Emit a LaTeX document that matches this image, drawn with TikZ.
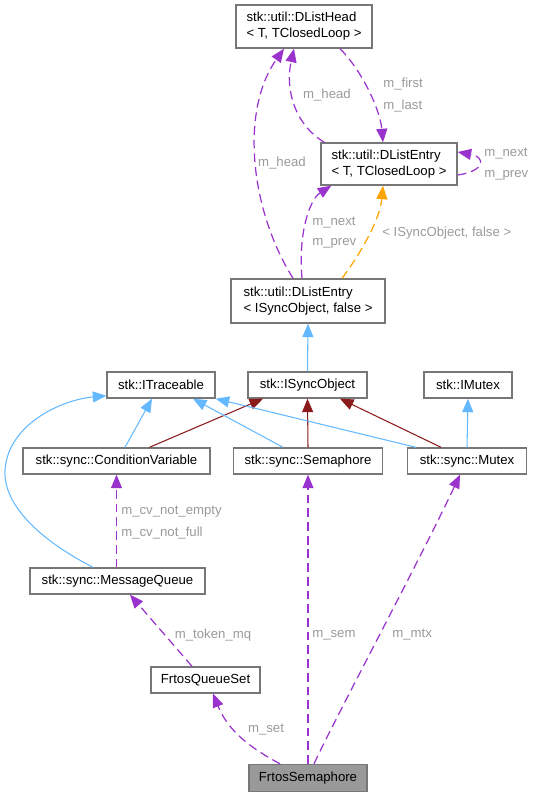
\documentclass[tikz,border=0pt]{standalone}
\usepackage{fontspec}
\setmainfont{Liberation Sans}
\usetikzlibrary{arrows.meta}
\definecolor{relcol}{HTML}{9A32CD}
\definecolor{inhcol}{HTML}{63B8FF}
\definecolor{pubcol}{HTML}{8B1A1A}
\definecolor{tplcol}{HTML}{FFA500}
\definecolor{lblcol}{HTML}{9A9A9A}
\definecolor{boxcol}{HTML}{777777}

\begin{document}
\begin{tikzpicture}[
  x=0.02cm, y=-0.02cm,
  cls/.style={rectangle, draw=boxcol, line width=0.8pt, fill=white, inner sep=2pt,
    minimum height=0.52cm, align=left, font=\fontsize{7.5}{9.2}\selectfont},
  lbl/.style={inner sep=0pt, text=lblcol, font=\fontsize{7.5}{9.2}\selectfont},
  tip/.style={-{Triangle[length=0.27cm,width=0.22cm]}},
  rel/.style={tip, draw=relcol, line width=0.7pt, dash pattern=on 5pt off 2.8pt},
  inh/.style={tip, draw=inhcol, line width=0.6pt},
  pub/.style={tip, draw=pubcol, line width=0.6pt},
  tpl/.style={tip, draw=tplcol, line width=0.7pt, dash pattern=on 5pt off 2.8pt}
]
\useasboundingbox (0,0) rectangle (537,797);

\node[cls, minimum width=2.72cm, minimum height=0.86cm] (dlhead) at (304,26.5)
  {stk::util::DListHead\\< T, TClosedLoop >};
\node[cls, minimum width=2.72cm, minimum height=0.84cm] (dlentry) at (389,164)
  {stk::util::DListEntry\\< T, TClosedLoop >};
\node[cls, minimum width=3.08cm, minimum height=0.88cm] (dlesync) at (308,301)
  {stk::util::DListEntry\\< ISyncObject, false >};
\node[cls, minimum width=2.16cm] (itrace) at (161,385) {stk::ITraceable};
\node[cls, minimum width=2.38cm] (isync) at (307.5,385) {stk::ISyncObject};
\node[cls, minimum width=1.76cm] (imutex) at (468,385) {stk::IMutex};
\node[cls, minimum width=3.74cm] (condvar) at (116.5,461) {stk::sync::ConditionVariable};
\node[cls, minimum width=2.98cm] (sema) at (308,461) {stk::sync::Semaphore};
\node[cls, minimum width=2.38cm] (mutex) at (467,461) {stk::sync::Mutex};
\node[cls, minimum width=3.5cm] (msgq) at (117.5,581) {stk::sync::MessageQueue};
\node[cls, minimum width=2.18cm] (fqset) at (205.5,680) {FrtosQueueSet};
\node[cls, minimum width=2.36cm, minimum height=0.54cm, fill=black!40] (fsem) at (308,778) {FrtosSemaphore};

\draw[rel] ([xshift=-0.56cm]fsem.north) .. controls +(-30,-16) and +(15,37) .. ([xshift=0.15cm]fqset.south);
\draw[rel] ([xshift=-0.27cm]fqset.north) -- ([xshift=0.25cm]msgq.south);
\draw[rel] (condvar.south |- msgq.north) -- (condvar.south);
\draw[rel] (fsem.north) -- (sema.south);
\draw[rel] ([xshift=0.12cm]fsem.north) .. controls +(26,-55) and +(-40,85) .. ([xshift=-0.14cm]mutex.south);

\draw[inh] ([xshift=-0.49cm]msgq.north) .. controls (40,540) and (3,505) .. (5,470)
  .. controls (8,425) and (60,400) .. ([yshift=0.06cm]itrace.south west);
\draw[inh] ([xshift=0.17cm]condvar.north) -- ([xshift=-0.18cm]itrace.south);
\draw[pub] ([xshift=0.66cm]condvar.north) -- ([xshift=-0.89cm]isync.south);
\draw[inh] ([xshift=-0.5cm]sema.north) -- ([xshift=0.64cm]itrace.south);
\draw[pub] (sema.north) -- (isync.south);
\draw[inh] ([xshift=-1.02cm]mutex.north) -- (itrace.south east);
\draw[pub] ([xshift=-0.52cm]mutex.north) -- ([xshift=0.65cm]isync.south);
\draw[inh] (mutex.north) -- (imutex.south);
\draw[inh] (isync.north) -- (dlesync.south);

\draw[tpl] ([xshift=0.68cm]dlesync.north) .. controls +(18,-24) and +(-3,34) .. ([xshift=-0.12cm]dlentry.south);
\draw[rel] ([xshift=-0.12cm]dlesync.north) .. controls +(-4,-44) and +(-22,14) .. ([xshift=0.22cm]dlentry.south west);
\draw[rel] ([xshift=-0.3cm]dlesync.north) .. controls +(-43,-69) and +(-44,62) .. ([xshift=-0.4cm]dlhead.south);
\draw[rel] ([xshift=0.08cm]dlentry.north west) .. controls +(-30,-18) and +(-9,40) .. ([xshift=-0.2cm]dlhead.south);
\draw[rel] ([xshift=0.72cm]dlhead.south) .. controls +(22,22) and +(-3,-33) .. ([xshift=-0.12cm]dlentry.north);
\draw[rel] ([yshift=-0.22cm]dlentry.east) .. controls +(28,-4) and +(28,5) .. ([yshift=0.24cm]dlentry.east);

\node[lbl] (lset) at (266,730) {m\_set};
\node[lbl] (ltoken) at (213,635) {m\_token\_mq};
\node[lbl, anchor=west] (lnotempty) at (121,512) {m\_cv\_not\_empty};
\node[lbl, anchor=west] (lnotfull) at (121,533) {m\_cv\_not\_full};
\node[lbl, anchor=west] (lsem) at (312,635) {m\_sem};
\node[lbl, anchor=west] (lmtx) at (392,635) {m\_mtx};
\node[lbl, anchor=west] (ltpl) at (382,233) {< ISyncObject, false >};
\node[lbl, anchor=west] (lnext) at (312,223) {m\_next};
\node[lbl, anchor=west] (lprev) at (312,243) {m\_prev};
\node[lbl] (lheadlong) at (282,163) {m\_head};
\node[lbl] (lheadshort) at (327,95) {m\_head};
\node[lbl, anchor=west] (lfirst) at (383,84) {m\_first};
\node[lbl, anchor=west] (llast) at (383,106) {m\_last};
\node[lbl, anchor=west] (lloopnext) at (484,154) {m\_next};
\node[lbl, anchor=west] (llooprev) at (484,175) {m\_prev};
\end{tikzpicture}
\end{document}
